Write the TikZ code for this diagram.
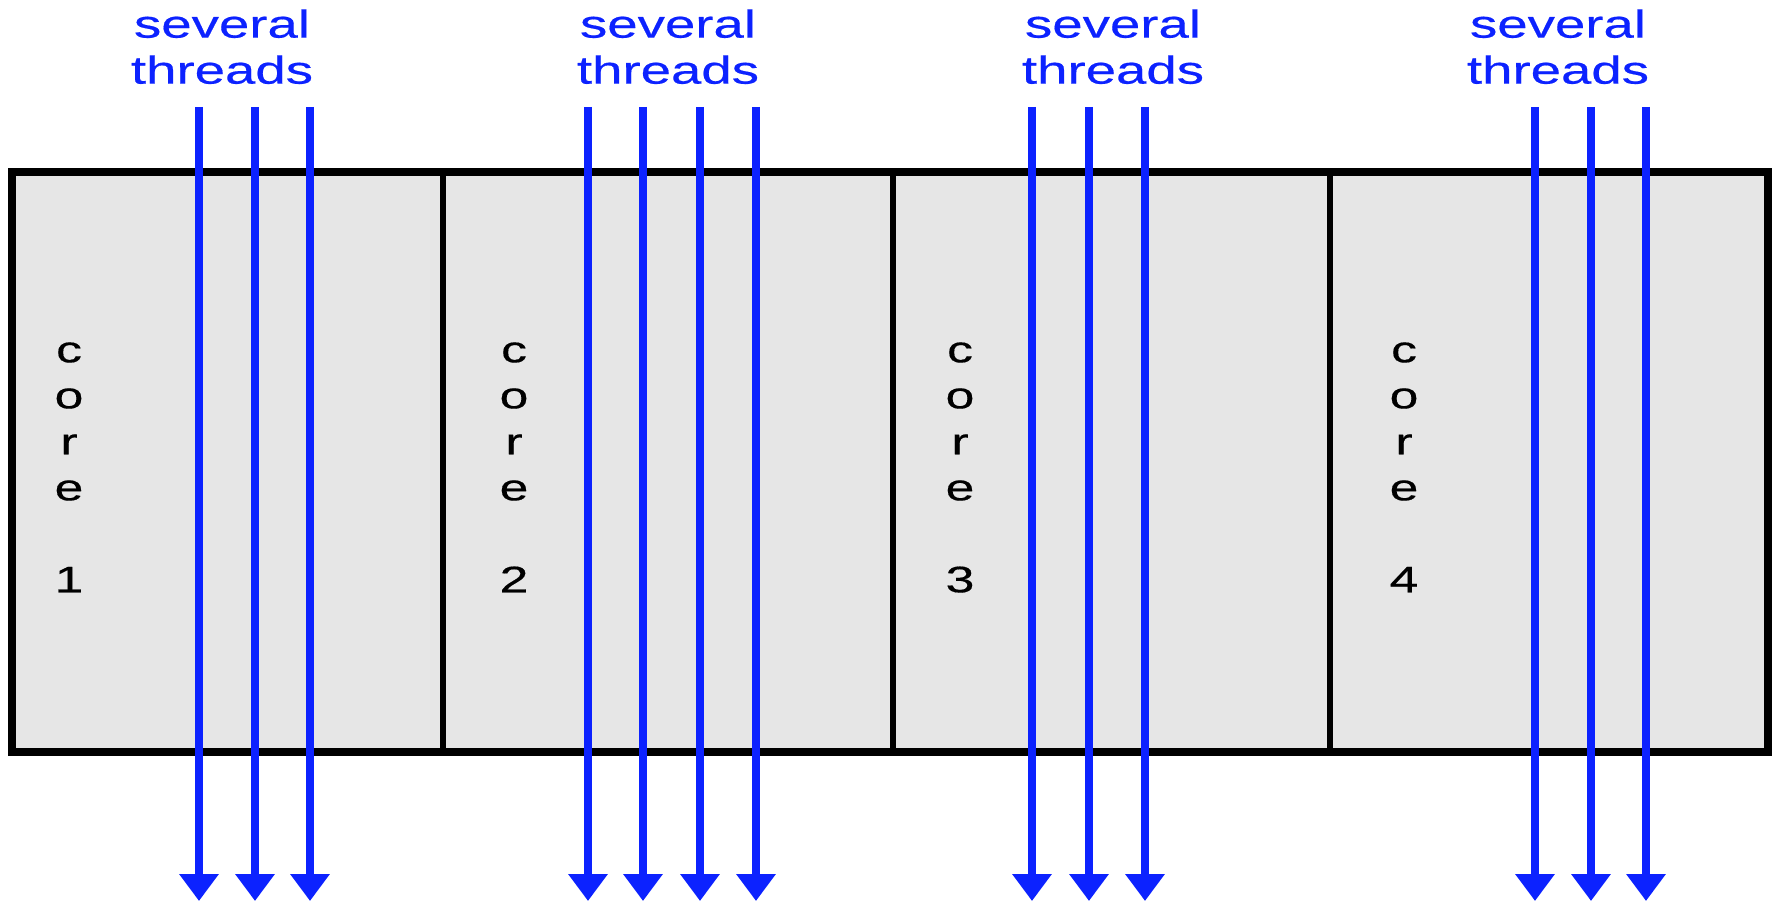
\documentclass[tikz,border=0pt]{standalone}
\usepackage{fontspec}
\setmainfont{Liberation Sans}
\newfontfamily\widefont[FakeStretch=1.4,FakeBold=0.4]{Liberation Sans}
\usetikzlibrary{arrows.meta}
\definecolor{thrblue}{RGB}{12,34,255}
\definecolor{coregray}{RGB}{230,230,230}
\begin{document}
\begin{tikzpicture}[x=0.5pt,y=-0.5pt,
  corebox/.style={draw=black,fill=coregray,line width=3pt,inner sep=0pt},
  corelabel/.style={font=\widefont\fontsize{18.5pt}{23pt}\selectfont,align=center,inner sep=0pt,anchor=north},
  thrlabel/.style={font=\widefont\fontsize{19.5pt}{23pt}\selectfont,text=thrblue,align=center,inner sep=0pt,anchor=north},
  thread/.style={draw=thrblue,line width=4pt,-{Triangle[width=19pt,length=13.5pt]}}]
\useasboundingbox (0,0) rectangle (1773,903);
% cores
\path[corebox] (12,172) rectangle (443,752);
\path[corebox] (443,172) rectangle (893,752);
\path[corebox] (893,172) rectangle (1330,752);
\path[corebox] (1330,172) rectangle (1768,752);
\node[draw=black,line width=4pt,minimum width=878pt,minimum height=290pt,inner sep=0pt] (chip) at (890,462) {};
% core labels
\node[corelabel] (c1) at (69,342) {c\\o\\r\\e\\[23pt]1};
\node[corelabel] (c2) at (514,342) {c\\o\\r\\e\\[23pt]2};
\node[corelabel] (c3) at (960,342) {c\\o\\r\\e\\[23pt]3};
\node[corelabel] (c4) at (1404,342) {c\\o\\r\\e\\[23pt]4};
% thread labels
\node[thrlabel] (l1) at (222,9) {several\\threads};
\node[thrlabel] (l2) at (668,9) {several\\threads};
\node[thrlabel] (l3) at (1113,9) {several\\threads};
\node[thrlabel] (l4) at (1558,9) {several\\threads};
% threads
\foreach \i/\x in {a/199,b/255,c/310,d/588,e/643,f/700,g/756,h/1032,i/1089,j/1145,k/1535,l/1591,m/1646}{
  \coordinate (t\i) at (\x,107);
  \coordinate (b\i) at (\x,901);
  \draw[thread] (t\i) -- (b\i);
}
\end{tikzpicture}
\end{document}
